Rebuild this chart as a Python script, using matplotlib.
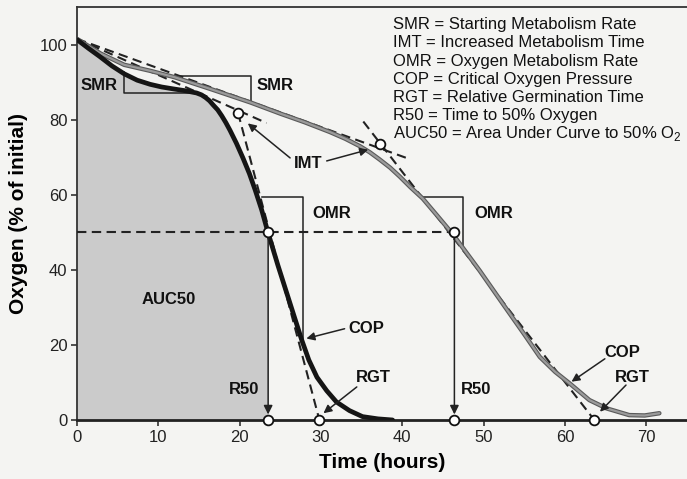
import matplotlib
matplotlib.use('Agg')
import matplotlib.pyplot as plt
import numpy as np

plt.rcParams['font.family'] = ['Liberation Sans', 'DejaVu Sans']

# fast germinating seed (black curve)
fast_t = [0, 1.4, 2.8, 4.3, 5.8, 7.4, 9.0, 10.4, 11.8, 13.3, 14.7, 15.3, 15.8,
          16.3, 16.7, 17.3, 17.8, 18.3, 18.8, 19.6, 20.4, 21.2, 21.9, 22.7,
          23.5, 24.7, 26.2, 27.6, 28.5, 29.5, 30.7, 31.9, 33.5, 35.1, 37.0, 38.8]
fast_o2 = [101.3, 99.0, 96.8, 94.3, 92.2, 90.5, 89.4, 88.7, 88.2, 87.7, 87.1,
           86.6, 85.9, 85.0, 84.0, 82.6, 81.0, 79.2, 77.2, 73.7, 69.8, 65.6,
           61.3, 56.0, 49.8, 41.2, 31.0, 21.5, 16.0, 11.4, 7.8, 4.8, 2.5, 0.9,
           0.3, 0.0]

# slow germinating seed (grey curve)
slow_t = [0, 2.9, 5.8, 9.0, 12.0, 16.5, 21.3, 25.0, 28.0, 31.1, 33.0, 34.8,
          36.0, 37.2, 38.5, 39.7, 41.0, 42.5, 44.3, 46.2, 49.5, 52.5, 55.0,
          56.9, 58.8, 60.6, 63.0, 65.1, 67.9, 69.8, 71.6]
slow_o2 = [101.5, 97.6, 94.6, 93.0, 91.3, 88.1, 84.6, 81.6, 79.3, 76.7, 74.9,
           72.9, 71.3, 69.4, 67.2, 64.8, 62.0, 59.0, 54.4, 49.5, 39.8, 30.5,
           22.8, 16.8, 12.8, 9.7, 5.3, 3.1, 1.3, 1.2, 1.8]

# tangent lines (start/end of each)
smr_fast_t, smr_fast_o2 = [0, 23.3], [101.5, 79.1]
smr_slow_t, smr_slow_o2 = [0, 40.5], [101.5, 69.8]
omr_fast_t, omr_fast_o2 = [19.8, 29.8], [81.8, 0]
omr_slow_t, omr_slow_o2 = [35.2, 63.6], [79.5, 0]

imt_t, imt_o2 = [19.8, 37.2], [81.8, 73.4]
r50_t = [23.5, 46.4]
rgt_t = [29.8, 63.6]

# slope boxes
smr_box_fast = ([5.8, 5.8, 14.7], [92.6, 87.0, 87.0])
smr_box_slow = ([12.0, 21.4, 21.4], [91.5, 91.5, 84.9])
omr_box_fast = ([22.7, 27.8, 27.8], [59.4, 59.4, 21.0])
omr_box_slow = ([42.5, 47.5, 47.5], [59.4, 59.4, 46.0])

legend_lines = ['SMR = Starting Metabolism Rate',
                'IMT = Increased Metabolism Time',
                'OMR = Oxygen Metabolism Rate',
                'COP = Critical Oxygen Pressure',
                'RGT = Relative Germination Time',
                'R50 = Time to 50% Oxygen',
                r'AUC50 = Area Under Curve to 50% O$_\mathregular{2}$']

bg = '#f4f4f2'
fig = plt.figure(figsize=(6.87, 4.79), dpi=100, facecolor=bg)
ax = fig.add_axes([0.1121, 0.1232, 0.8879, 0.8622], facecolor=bg)

# area under the fast curve to R50
ft = np.array(fast_t)
fo = np.array(fast_o2)
m = ft <= r50_t[0]
ax.fill_between(np.append(ft[m], r50_t[0]), np.append(fo[m], 50), 0,
                color='#cbcbcb', lw=0, zorder=1)

dash = (0, (4.5, 2.6))
ax.plot([0, r50_t[1]], [50, 50], color='#222222', lw=1.5, ls=dash, zorder=3)
ax.plot(smr_fast_t, smr_fast_o2, color='#222222', lw=1.5, ls=dash, zorder=3)
ax.plot(smr_slow_t, smr_slow_o2, color='#222222', lw=1.5, ls=dash, zorder=3)
ax.plot(omr_fast_t, omr_fast_o2, color='#222222', lw=1.5, ls=dash, zorder=3)
ax.plot(omr_slow_t, omr_slow_o2, color='#222222', lw=1.5, ls=dash, zorder=3)

ax.plot(slow_t, slow_o2, color='#5a5a5a', lw=3.2, solid_capstyle='round',
        solid_joinstyle='round', zorder=4)
ax.plot(slow_t, slow_o2, color='#9a9a9a', lw=1.6, solid_capstyle='round',
        solid_joinstyle='round', zorder=4)
ax.plot(fast_t, fast_o2, color='#151515', lw=3.4, solid_capstyle='round',
        solid_joinstyle='round', zorder=5)

for bx in [smr_box_fast, smr_box_slow, omr_box_fast, omr_box_slow]:
    ax.plot(bx[0], bx[1], color='#222222', lw=1.1, zorder=3)

arr = dict(arrowstyle='-|>', color='#222222', lw=1.1, mutation_scale=13,
           shrinkA=0, shrinkB=4)
for t in r50_t:
    ax.annotate('', xy=(t, 0), xytext=(t, 50), arrowprops=arr, zorder=6)

mk = dict(marker='o', ms=7, mfc='white', mec='#111111', mew=1.3, ls='none',
          clip_on=False, zorder=8)
ax.plot(imt_t, imt_o2, **mk)
ax.plot(r50_t, [50, 50], **mk)
ax.plot(r50_t, [0, 0], **mk)
ax.plot(rgt_t, [0, 0], **mk)

bold = dict(fontsize=12, fontweight='bold', ha='center', va='center', color='#111111')
ax.text(2.7, 89.1, 'SMR', **bold)
ax.text(24.3, 89.1, 'SMR', **bold)
ax.text(28.4, 68.2, 'IMT', **bold)
ax.text(31.3, 54.9, 'OMR', **bold)
ax.text(51.2, 54.9, 'OMR', **bold)
ax.text(11.3, 32.1, 'AUC50', **bold)
ax.text(20.6, 8.2, 'R50', **bold)
ax.text(49.1, 8.2, 'R50', **bold)
ax.text(35.6, 24.4, 'COP', **bold)
ax.text(36.4, 11.4, 'RGT', **bold)
ax.text(67.0, 18.0, 'COP', **bold)
ax.text(68.3, 11.4, 'RGT', **bold)

arr2 = dict(arrowstyle='-|>', color='#222222', lw=1.1, mutation_scale=12,
            shrinkA=0, shrinkB=0)
ax.annotate('', xy=(21.0, 79.0), xytext=(26.2, 69.8), arrowprops=arr2, zorder=6)
ax.annotate('', xy=(35.8, 72.0), xytext=(30.7, 69.0), arrowprops=arr2, zorder=6)
ax.annotate('', xy=(28.2, 21.7), xytext=(32.9, 24.3), arrowprops=arr2, zorder=6)
ax.annotate('', xy=(30.3, 1.8), xytext=(34.4, 8.8), arrowprops=arr2, zorder=6)
ax.annotate('', xy=(60.8, 10.2), xytext=(64.9, 16.3), arrowprops=arr2, zorder=6)
ax.annotate('', xy=(64.3, 2.2), xytext=(67.5, 9.3), arrowprops=arr2, zorder=6)

for i, s in enumerate(legend_lines):
    ax.text(38.9, 105.3 - i * 4.85, s, fontsize=12, ha='left', va='center',
            color='#111111')

ax.set_xlim(0, 75)
ax.set_ylim(0, 110)
ax.set_xticks(np.arange(0, 71, 10))
ax.set_yticks(np.arange(0, 101, 20))
ax.tick_params(direction='out', length=4, width=1.1, labelsize=12,
               colors='#222222', pad=3)
ax.spines['right'].set_visible(False)
for s in ['left', 'top']:
    ax.spines[s].set_linewidth(1.3)
    ax.spines[s].set_color('#333333')
ax.spines['bottom'].set_linewidth(2)
ax.spines['bottom'].set_color('#222222')

ax.set_xlabel('Time (hours)', fontsize=15, fontweight='bold', labelpad=6)
ax.set_ylabel('Oxygen (% of initial)', fontsize=15, fontweight='bold', labelpad=8)

fig.savefig('out.png', dpi=100, facecolor=bg)
